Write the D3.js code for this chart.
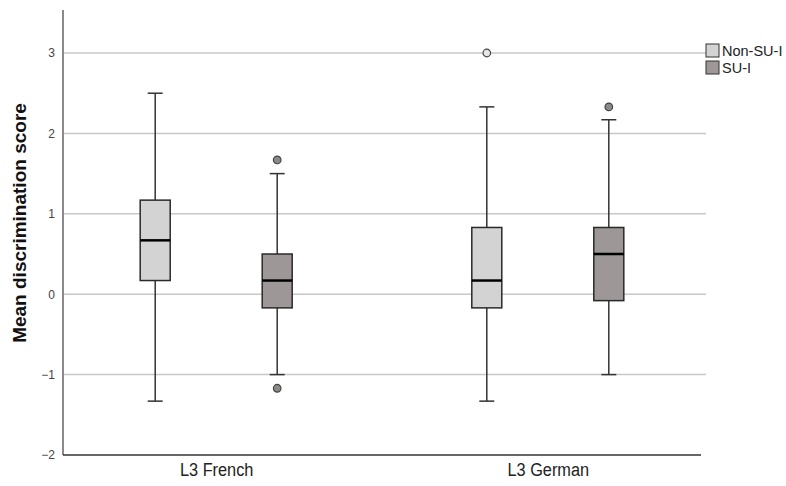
<!DOCTYPE html>
<html>
<head>
<meta charset="utf-8">
<script src="https://cdn.jsdelivr.net/npm/d3@7"></script>
<style>
  html, body { margin: 0; padding: 0; background: #fff; }
  svg { display: block; font-family: "Liberation Sans", Arial, sans-serif; }
</style>
</head>
<body>
<svg id="chart" width="786" height="486"></svg>
<script>
// ---- data ----
const categories = ["L3 French", "L3 German"];
const groups = ["Non-SU-I", "SU-I"];
const whiskerLow  = { "Non-SU-I": [-1.33, -1.33], "SU-I": [-1.00, -1.00] };
const q1          = { "Non-SU-I": [0.17, -0.17],  "SU-I": [-0.17, -0.08] };
const median      = { "Non-SU-I": [0.67, 0.17],   "SU-I": [0.17, 0.50] };
const q3          = { "Non-SU-I": [1.17, 0.83],   "SU-I": [0.50, 0.83] };
const whiskerHigh = { "Non-SU-I": [2.50, 2.33],   "SU-I": [1.50, 2.17] };
const outliers    = { "Non-SU-I": [[], [3.00]],   "SU-I": [[1.67, -1.17], [2.33]] };
const yTicks = [-2, -1, 0, 1, 2, 3];
const yLabel = "Mean discrimination score";

// ---- layout ----
const svg = d3.select("#chart");
const mLeft = 63, mRight = 701, mTop = 10, mBottom = 455;
const y = d3.scaleLinear().domain([-2, 3.535]).range([mBottom, mTop]);
const x = d3.scalePoint().domain(categories).range([mLeft, mRight]).padding(0.462);
const gx = d3.scalePoint().domain(groups).range([-61, 61]);
const fills = { "Non-SU-I": "#d3d3d3", "SU-I": "#9d9797" };
const outFill = { "Non-SU-I": "#e6e6e6", "SU-I": "#8c8888" };
const boxW = 30, capW = 15;

// gridlines
svg.append("g").selectAll("line").data(yTicks.filter(d => d !== -2)).join("line")
  .attr("x1", mLeft).attr("x2", 706)
  .attr("y1", d => y(d)).attr("y2", d => y(d))
  .attr("stroke", "#c8c8c8").attr("stroke-width", 1.5);

// y axis
const yAxis = svg.append("g").attr("transform", `translate(${mLeft},0)`)
  .call(d3.axisLeft(y).tickValues(yTicks).tickSize(0).tickPadding(8).tickFormat(d3.format("d")));
yAxis.select(".domain").attr("stroke", "#8a8a8a").attr("stroke-width", 2)
  .attr("d", `M0,${mTop}V${mBottom}`);
yAxis.selectAll("text").attr("fill", "#444").style("font-size", "12px")
  .style("font-family", "'Liberation Sans', Arial, sans-serif");

// x axis
const xAxis = svg.append("g").attr("transform", `translate(0,${mBottom})`)
  .call(d3.axisBottom(x).tickSize(0).tickPadding(8));
xAxis.select(".domain").attr("stroke", "#333").attr("stroke-width", 1.5)
  .attr("d", `M${mLeft},0H${mRight}`);
xAxis.selectAll("text").attr("fill", "#222").style("font-size", "19px")
  .attr("transform", "scale(0.86,1)")
  .style("font-family", "'Liberation Sans', Arial, sans-serif");

// y label
svg.append("text")
  .attr("transform", `translate(26,223) rotate(-90)`)
  .attr("text-anchor", "middle")
  .style("font-size", "19px").style("font-weight", "bold").attr("fill", "#111")
  .text(yLabel);

// boxes
const boxData = [];
groups.forEach(g => categories.forEach((c, i) => boxData.push({
  g, c, lo: whiskerLow[g][i], q1: q1[g][i], med: median[g][i], q3: q3[g][i],
  hi: whiskerHigh[g][i], out: outliers[g][i]
})));

const bx = svg.append("g").selectAll("g").data(boxData).join("g")
  .attr("transform", d => `translate(${x(d.c) + gx(d.g)},0)`);

bx.append("line").attr("x1", 0).attr("x2", 0)
  .attr("y1", d => y(d.hi)).attr("y2", d => y(d.lo))
  .attr("stroke", "#333").attr("stroke-width", 1.5);
bx.append("line").attr("x1", -capW / 2).attr("x2", capW / 2)
  .attr("y1", d => y(d.hi)).attr("y2", d => y(d.hi))
  .attr("stroke", "#333").attr("stroke-width", 1.5);
bx.append("line").attr("x1", -capW / 2).attr("x2", capW / 2)
  .attr("y1", d => y(d.lo)).attr("y2", d => y(d.lo))
  .attr("stroke", "#333").attr("stroke-width", 1.5);
bx.append("rect").attr("x", -boxW / 2).attr("width", boxW)
  .attr("y", d => y(d.q3)).attr("height", d => y(d.q1) - y(d.q3))
  .attr("fill", d => fills[d.g]).attr("stroke", "#2a2a2a").attr("stroke-width", 1.5);
bx.append("line").attr("x1", -boxW / 2).attr("x2", boxW / 2)
  .attr("y1", d => y(d.med)).attr("y2", d => y(d.med))
  .attr("stroke", "#000").attr("stroke-width", 2.5);
bx.selectAll("circle").data(d => d.out.map(v => ({ v, g: d.g }))).join("circle")
  .attr("cx", 0).attr("cy", d => y(d.v)).attr("r", 3.8)
  .attr("fill", d => outFill[d.g]).attr("stroke", "#444").attr("stroke-width", 1.2);

// legend
const lg = svg.append("g").selectAll("g").data(groups).join("g")
  .attr("transform", (d, i) => `translate(706,${44 + i * 17})`);
lg.append("rect").attr("width", 13).attr("height", 13)
  .attr("fill", d => fills[d]).attr("stroke", "#333").attr("stroke-width", 1);
lg.append("text").attr("x", 16).attr("y", 12)
  .style("font-size", "14.5px").attr("fill", "#222").text(d => d);
</script>
</body>
</html>
